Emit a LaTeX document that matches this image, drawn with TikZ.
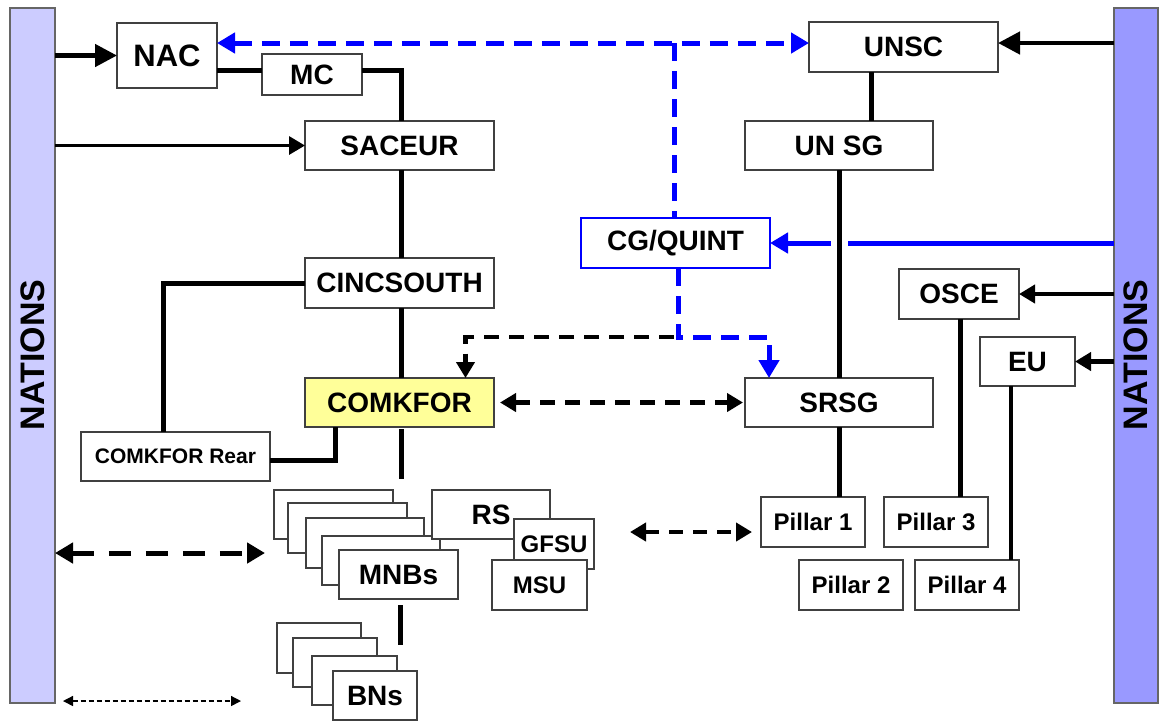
\documentclass[tikz,border=0pt]{standalone}
\usepackage{fontspec}
\setmainfont{Liberation Sans}
\usetikzlibrary{arrows.meta}
\definecolor{lbarc}{HTML}{CCCCFF}
\definecolor{rbarc}{HTML}{9999FF}
\definecolor{kyel}{HTML}{FFFF99}
\definecolor{bordc}{HTML}{404040}
\definecolor{bluel}{HTML}{0000FF}
\newcommand\bnode[7]{\node[#1,minimum width={(#4-#2)*0.5pt},minimum height={(#5-#3)*0.5pt}] (#6) at ({(#2+#4)/2},{(#3+#5)/2}) {#7};}
\tikzset{
  box/.style={draw=bordc, line width=0.75pt, fill=white, inner sep=0pt, outer sep=0pt, font=\bfseries\fontsize{14}{16}\selectfont},
  bigf/.style={font=\bfseries\fontsize{15.5}{17}\selectfont},
  smallf/.style={font=\bfseries\fontsize{12}{14}\selectfont},
  tinyf/.style={font=\bfseries\fontsize{10.5}{12}\selectfont},
  bar/.style={draw=bordc!80, line width=0.75pt, inner sep=0pt, outer sep=0pt},
  thickln/.style={line width=2.5pt},
  thinln/.style={line width=1.6pt},
  bigtip/.style={-{Triangle[length=11pt,width=11pt]}},
  midtip/.style={-{Triangle[length=8pt,width=9pt]}},
  bluedash/.style={draw=bluel, line width=2.5pt, dash pattern=on 9pt off 5pt},
  blkdash/.style={line width=2.3pt, dash pattern=on 7.5pt off 5pt},
}
\begin{document}
\begin{tikzpicture}[x=0.5pt,y=-0.5pt]
\useasboundingbox (0,0) rectangle (1159,720);
\fill[white] (0,0) rectangle (1159,720);

% bars
\bnode{bar,fill=lbarc}{10}{8}{55}{703}{lbar}{}
\bnode{bar,fill=rbarc}{1114}{8}{1158}{703}{rbar}{}
\node[rotate=90, font=\bfseries\fontsize{17}{19}\selectfont] (ln) at (32.5,355) {NATIONS};
\node[rotate=90, font=\bfseries\fontsize{17}{19}\selectfont] (rn) at (1136,355) {NATIONS};

% NATO side
\bnode{box,bigf}{117}{23}{217}{88}{nac}{NAC}
\bnode{box}{262}{54}{362}{95}{mc}{MC}
\bnode{box}{305}{121}{494}{170}{saceur}{SACEUR}
\bnode{box}{305}{258}{494}{308}{cinc}{CINCSOUTH}
\bnode{box,fill=kyel}{305}{378}{494}{427}{comk}{COMKFOR}
\bnode{box,tinyf}{81}{432}{270}{481}{rear}{COMKFOR Rear}

% UN side
\bnode{box}{809}{22}{998}{72}{unsc}{UNSC}
\bnode{box}{745}{121}{933}{170}{unsg}{UN SG}
\bnode{box,draw=bluel,line width=0.6pt}{581}{218}{770}{268}{cgq}{CG/QUINT}
\bnode{box}{745}{378}{933}{427}{srsg}{SRSG}
\bnode{box}{899}{269}{1019}{319}{osce}{OSCE}
\bnode{box}{980}{337}{1075}{386}{eu}{EU}
\bnode{box,smallf}{761}{497}{865}{547}{p1}{Pillar 1}
\bnode{box,smallf}{884}{497}{988}{547}{p3}{Pillar 3}
\bnode{box,smallf}{799}{560}{903}{610}{p2}{Pillar 2}
\bnode{box,smallf}{915}{560}{1019}{610}{p4}{Pillar 4}

% MNB stack
\bnode{box}{274}{490}{393}{539}{mnba}{}
\bnode{box}{288}{503}{407}{553}{mnbb}{}
\bnode{box}{306}{518}{424}{568}{mnbc}{}
\bnode{box}{322}{536}{440}{585}{mnbd}{}
\bnode{box}{339}{550}{458}{599}{mnb}{MNBs}
\bnode{box}{432}{490}{550}{539}{rs}{RS}
\bnode{box,smallf}{514}{519}{594}{569}{gfsu}{GFSU}
\bnode{box,smallf}{492}{560}{587}{610}{msu}{MSU}

% BN stack
\bnode{box}{277}{623}{361}{673}{bna}{}
\bnode{box}{293}{638}{377}{687}{bnb}{}
\bnode{box}{312}{656}{397}{705}{bnc}{}
\bnode{box}{333}{671}{417}{720}{bn}{BNs}

% coordinates
\coordinate (bl) at (674,43);
\coordinate (jn) at (678,337);
\coordinate (comkd) at (401,479);
\coordinate (mnbu) at (400,605);
\coordinate (mnbd2) at (400,645);
\coordinate (la) at (265,553);
\coordinate (ta) at (63,701);
\coordinate (tb) at (241,701);
\coordinate (pa) at (630,532);
\coordinate (pb) at (752,532);

% NATO connectors
\draw[line width=2.3pt, bigtip] (nac.west -| lbar.east) -- (nac.west);
\draw[thinln, midtip] (saceur.west -| lbar.east) -- (saceur.west);
\draw[thickln] ([yshift=2.25pt]mc.west) -- ([yshift=2.25pt]mc.west -| nac.east);
\draw[thickln] ([yshift=2.25pt]mc.east) -| ([xshift=0.75pt]saceur.north);
\draw[thickln] ([xshift=0.75pt]saceur.south) -- ([xshift=0.75pt]cinc.north);
\draw[thickln] ([xshift=0.75pt]cinc.south) -- ([xshift=0.75pt]comk.north);
\draw[thickln] (cinc.west) -| ([xshift=-6.25pt]rear.north);
\draw[thickln] ([yshift=-1.75pt]rear.east) -| ([xshift=-32.25pt]comk.south);
\draw[thickln] ([xshift=0.75pt,yshift=-1pt]comk.south) -- (comkd);
\draw[thickln] (mnbu) -- (mnbd2);

% blue connectors
\draw[bluedash, {Triangle[length=9pt,width=10pt]}-{Triangle[length=9pt,width=10pt]}] (bl -| nac.east) -- (bl -| unsc.west);
\draw[bluedash] (bl) -- (bl |- cgq.north);
\draw[bluedash, -{Triangle[length=9pt,width=10pt]}] (cgq.south -| jn) -- (jn) -| ([xshift=-35pt]srsg.north);
\draw[draw=bluel, line width=2.5pt, -{Triangle[length=9pt,width=10pt]}] (cgq.east -| rbar.west) -- (cgq.east);

% black dashed
\draw[blkdash, -{Triangle[length=8pt,width=9pt]}] ([xshift=-2pt]jn) -| ([xshift=33pt]comk.north);
\draw[blkdash, {Triangle[length=8pt,width=9pt]}-{Triangle[length=8pt,width=9pt]}] ([xshift=3pt]comk.east) -- ([xshift=-1pt]srsg.west);
\draw[line width=2.5pt, dash pattern=on 11pt off 7.5pt, {Triangle[length=9pt,width=10pt]}-{Triangle[length=9pt,width=10pt]}] (la -| lbar.east) -- (la);
\draw[line width=2.3pt, dash pattern=on 7pt off 5pt, {Triangle[length=8pt,width=9pt]}-{Triangle[length=8pt,width=9pt]}] (pa) -- (pb);
\draw[line width=0.7pt, dash pattern=on 2.5pt off 1.5pt, {Triangle[length=5pt,width=5pt]}-{Triangle[length=5pt,width=5pt]}] (ta) -- (tb);

% UN connectors
\draw[line width=2.3pt, bigtip] ([yshift=2pt]unsc.east -| rbar.west) -- ([yshift=2pt]unsc.east);
\draw[thickln] ([xshift=-16.25pt]unsc.south) -- ([xshift=-16.25pt]unsc.south |- unsg.north);
\draw[white, line width=8.5pt] ([yshift=3pt]unsg.south |- cgq.east) -- ([yshift=-3pt]unsg.south |- cgq.east);
\draw[thickln] (unsg.south) -- (unsg.south |- srsg.north);
\draw[thickln] (srsg.south) -- (srsg.south |- p1.north);
\draw[line width=2.2pt, midtip] (osce.east -| rbar.west) -- (osce.east);
\draw[line width=2.2pt, midtip] (eu.east -| rbar.west) -- (eu.east);
\draw[thickln] ([xshift=0.5pt]osce.south) -- ([xshift=0.5pt]osce.south |- p3.north);
\draw[thinln] ([xshift=-8.25pt]eu.south) -- ([xshift=-8.25pt]eu.south |- p4.north);
\end{tikzpicture}
\end{document}
